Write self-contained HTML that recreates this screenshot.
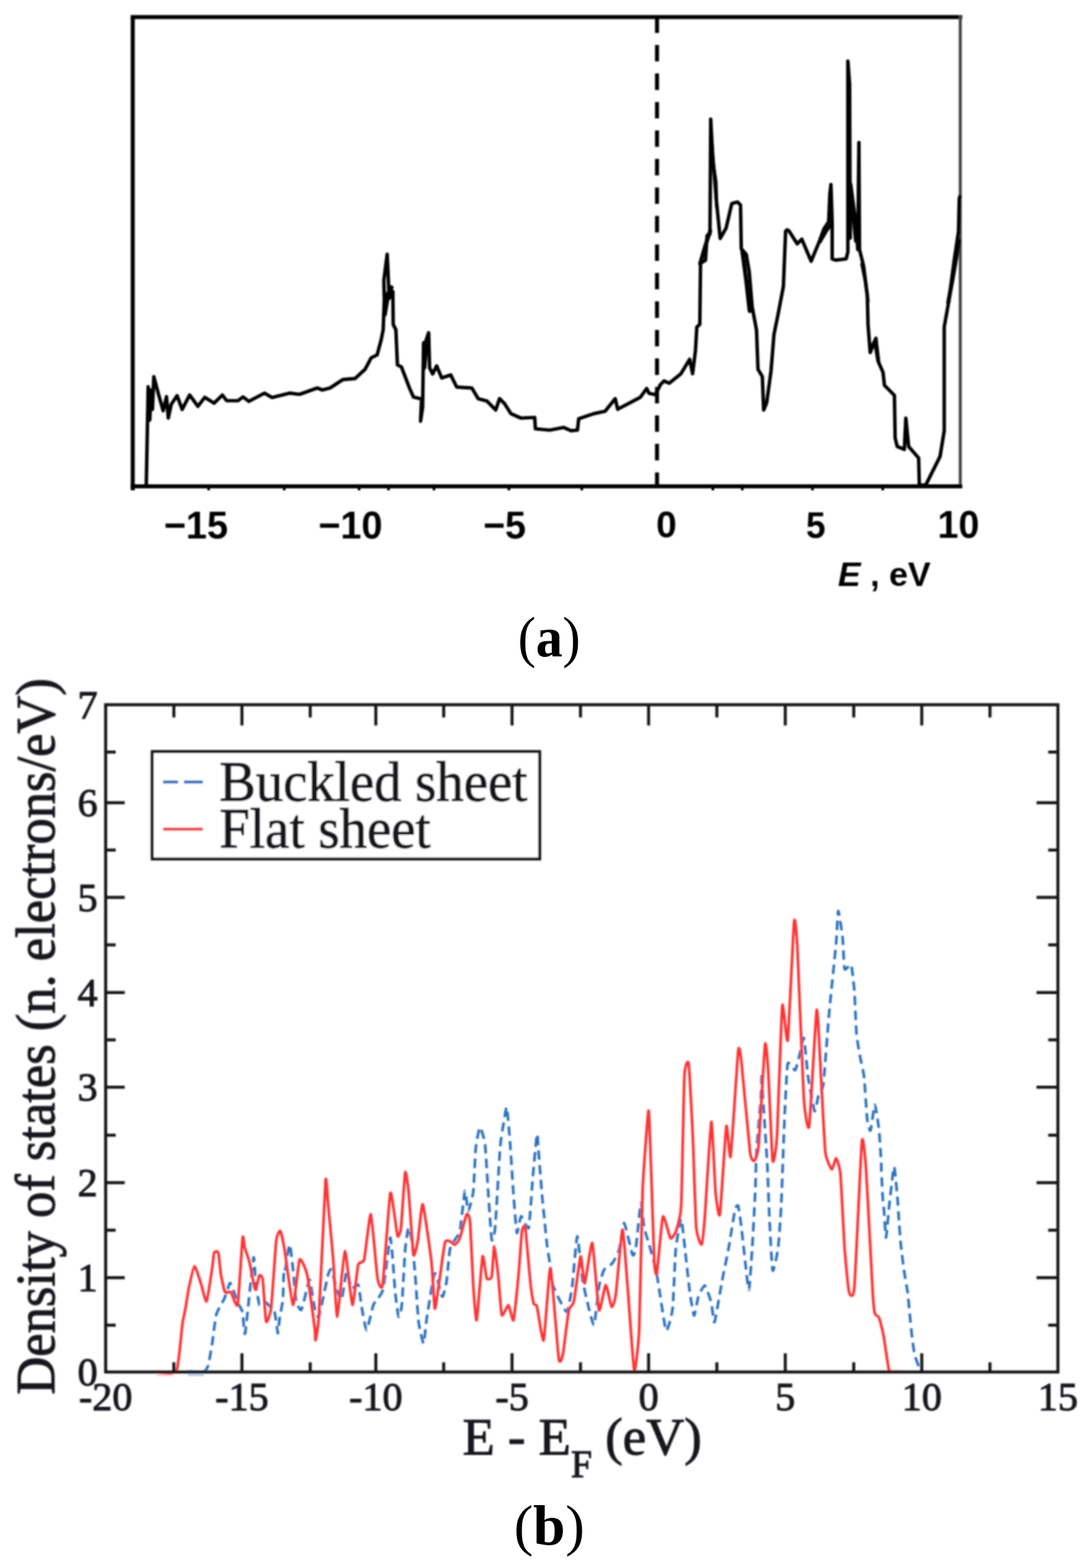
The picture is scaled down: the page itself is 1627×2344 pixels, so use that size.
<!DOCTYPE html>
<html><head><meta charset="utf-8"><title>Density of states</title>
<style>
html,body{margin:0;padding:0;background:#fff;}
body{width:1627px;height:2344px;overflow:hidden;}
svg{display:block;}
.sans{font-family:"Liberation Sans",Arial,sans-serif;font-weight:bold;}
.serif{font-family:"Liberation Serif","Times New Roman",serif;}
</style></head>
<body>
<svg width="1627" height="2344" viewBox="0 0 1627 2344">
<rect width="1627" height="2344" fill="#fff"/>
<defs>
<filter id="bl" x="-5%" y="-5%" width="110%" height="110%"><feGaussianBlur stdDeviation="1.1"/></filter>
</defs>
<g filter="url(#bl)">
<!-- panel a -->
<g fill="none" stroke-linejoin="miter">
<path d="M198.5 25 V733" stroke="#000" stroke-width="6"/>
<path d="M195.5 25.5 H1439" stroke="#000" stroke-width="6"/>
<path d="M1436 23 V729" stroke="#444" stroke-width="4.5"/>
<path d="M195.5 727 H1439" stroke="#000" stroke-width="6"/>
<path d="M312.0 727 v6 M425.0 727 v6 M537.0 727 v6 M581.0 727 v6 M649.0 727 v6 M761.0 727 v6 M870.0 727 v6 M1066.0 727 v6 M1110.0 727 v6 M1215.0 727 v6 M1320.0 727 v6" stroke="#000" stroke-width="4"/>
<path d="M982.5 24.6 V727" stroke="#000" stroke-width="6" stroke-dasharray="24.6 18"/>
<path d="M218.8 727.0 L218.8 723.0 L221.6 578.0 L224.0 628.0 L226.0 583.0 L228.0 612.0 L230.0 563.0 L237.6 591.4 L244.0 614.0 L249.0 593.0 L251.7 625.0 L256.0 604.6 L264.8 591.4 L272.4 612.0 L283.6 590.5 L295.9 607.4 L306.2 594.0 L320.3 602.7 L332.5 590.5 L339.0 599.0 L356.0 599.0 L363.5 593.3 L372.0 600.0 L395.5 587.7 L406.8 594.2 L433.0 587.7 L448.0 589.5 L474.4 580.0 L482.0 583.0 L493.5 580.0 L513.0 567.3 L531.0 565.8 L546.0 552.0 L555.0 535.0 L564.0 530.5 L570.0 508.0 L573.0 493.0 L574.7 447.7 L574.0 419.0 L579.0 380.0 L582.0 446.0 L587.5 435.7 L588.0 485.0 L592.0 493.0 L594.3 545.5 L600.3 548.5 L612.3 580.0 L618.3 593.6 L630.4 596.6 L628.9 629.7 L632.0 608.6 L633.4 512.4 L636.4 511.0 L641.0 497.4 L642.4 550.0 L647.0 559.0 L653.0 547.0 L660.5 565.0 L674.0 560.5 L683.0 578.6 L705.6 580.0 L715.0 595.9 L728.2 599.6 L741.4 612.8 L747.0 595.9 L754.5 603.4 L764.0 618.4 L779.0 625.0 L799.6 624.0 L800.6 641.0 L822.0 643.0 L842.9 639.0 L854.0 643.8 L863.5 643.0 L865.4 626.0 L888.0 618.4 L905.0 614.7 L920.0 596.0 L923.7 611.8 L957.5 594.0 L967.0 580.8 L970.7 588.0 L980.0 590.0 L987.6 575.0 L993.0 569.5 L1000.9 572.8 L1018.3 558.7 L1031.3 537.0 L1035.7 558.7 L1040.0 524.0 L1042.0 489.0 L1046.5 484.8 L1047.6 393.5 L1055.0 389.0 L1057.4 352.0 L1061.7 350.0 L1062.8 178.0 L1066.0 241.0 L1070.4 271.7 L1071.5 302.0 L1077.0 356.5 L1085.7 341.3 L1094.3 304.3 L1103.0 302.0 L1107.4 306.5 L1108.5 371.7 L1116.0 380.4 L1120.4 406.5 L1124.8 458.7 L1131.3 493.5 L1133.5 552.0 L1140.0 563.0 L1142.0 613.0 L1146.5 602.0 L1153.0 554.3 L1157.4 500.0 L1164.0 467.4 L1171.5 428.0 L1174.8 345.7 L1177.0 343.5 L1180.0 345.4 L1192.2 364.5 L1199.0 357.5 L1213.0 390.6 L1225.2 361.0 L1232.2 342.0 L1239.2 331.4 L1241.0 289.7 L1242.6 275.8 L1244.4 331.4 L1244.4 387.0 L1249.6 388.9 L1265.3 387.0 L1267.9 376.7 L1267.9 91.3 L1270.5 126.0 L1271.4 355.8 L1272.2 275.8 L1277.4 315.8 L1281.0 345.4 L1282.7 373.2 L1284.4 213.0 L1285.3 373.2 L1291.4 397.6 L1297.0 441.7 L1298.0 484.3 L1301.3 527.0 L1309.8 505.6 L1314.0 541.9 L1320.5 556.8 L1322.6 576.0 L1337.5 591.0 L1338.6 654.8 L1341.8 667.5 L1352.4 671.8 L1354.6 625.0 L1358.8 667.5 L1373.7 684.6 L1374.8 725.0 L1384.4 725.0 L1405.7 682.5 L1412.0 644.0 L1412.0 488.6 L1418.5 452.4 L1427.0 388.5 L1433.4 345.9 L1434.5 296.9 L1436.0 292.0" stroke="#000" stroke-width="5.2" stroke-linejoin="round"/>
<path d="M1047.0 394.0 L1054.0 370.0 L1062.0 345.0" stroke="#000" stroke-width="6" stroke-linecap="round"/><path d="M1063.5 200.0 L1068.0 260.0 L1072.0 310.0" stroke="#000" stroke-width="5" stroke-linecap="round"/><path d="M1110.0 375.0 L1116.0 420.0 L1121.0 465.0" stroke="#000" stroke-width="6" stroke-linecap="round"/><path d="M1270.0 270.0 L1276.0 320.0 L1280.0 360.0" stroke="#000" stroke-width="6" stroke-linecap="round"/><path d="M1226.0 362.0 L1236.0 345.0 L1243.0 335.0" stroke="#000" stroke-width="5" stroke-linecap="round"/><path d="M575.0 470.0 L580.0 440.0 L585.0 430.0" stroke="#000" stroke-width="7" stroke-linecap="round"/><path d="M635.0 550.0 L638.0 515.0" stroke="#000" stroke-width="5" stroke-linecap="round"/><path d="M1418.0 452.0 L1424.0 420.0 L1430.0 385.0 L1434.0 360.0" stroke="#000" stroke-width="6" stroke-linecap="round"/><path d="M1289.0 395.0 L1294.0 420.0 L1298.0 450.0" stroke="#000" stroke-width="5" stroke-linecap="round"/><path d="M1302.0 520.0 L1308.0 510.0 L1313.0 540.0" stroke="#000" stroke-width="5" stroke-linecap="round"/>
</g>
<g fill="#000"><g transform="matrix(1.0110 0 0 1.0395 244.98 804.50)"><text class="sans" x="0" y="0" font-size="56">&#8722;15</text></g><g transform="matrix(1.0110 0 0 1.0395 475.98 804.50)"><text class="sans" x="0" y="0" font-size="56">&#8722;10</text></g><g transform="matrix(1.0017 0 0 1.0395 722.40 804.50)"><text class="sans" x="0" y="0" font-size="56">&#8722;5</text></g><g transform="matrix(0.9852 0 0 0.9789 981.23 803.20)"><text class="sans" x="0" y="0" font-size="56">0</text></g><g transform="matrix(0.9393 0 0 1.0026 1205.32 803.90)"><text class="sans" x="0" y="0" font-size="56">5</text></g><g transform="matrix(1.0036 0 0 1.0237 1401.99 804.40)"><text class="sans" x="0" y="0" font-size="56">10</text></g><g transform="matrix(0.9608 0 0 0.9556 1253.04 876.36)"><text class="sans" x="0" y="0" font-size="53"><tspan font-style="italic">E</tspan> , eV</text></g></g>
<!-- panel b -->
<g fill="none">
<path d="M234 2055.5 H258" stroke="#ff6060" stroke-width="3" opacity="0.35"/>
<path d="M281 2055.5 H305" stroke="#3070c0" stroke-width="3" opacity="0.35"/>
<path d="M281.0 2050.5 C283.0 2050.5 302.5 2051.3 305.0 2050.5 C307.5 2049.7 310.4 2044.4 311.5 2040.7 C312.6 2037.0 316.8 2011.7 317.7 2005.6 C318.6 1999.5 322.0 1972.0 322.7 1968.0 C323.4 1964.0 325.4 1960.1 326.5 1957.9 C327.6 1955.7 333.8 1945.0 335.3 1941.7 C336.8 1938.4 342.8 1918.5 344.0 1917.8 C345.2 1917.1 349.2 1930.3 350.3 1932.9 C351.4 1935.5 355.6 1946.8 356.6 1949.2 C357.6 1951.6 362.0 1958.0 362.8 1961.7 C363.6 1965.4 365.2 1999.8 366.6 1993.0 C368.0 1986.2 377.8 1886.6 379.1 1880.3 C380.4 1874.0 381.6 1912.0 382.3 1917.8 C383.0 1923.6 386.8 1948.1 387.9 1950.4 C389.0 1952.7 393.5 1944.5 395.4 1945.4 C397.3 1946.3 408.8 1957.7 410.5 1961.7 C412.2 1965.7 414.9 1992.2 415.5 1993.0 C416.1 1993.8 417.4 1975.9 418.0 1971.7 C418.6 1967.5 422.5 1948.4 423.0 1942.9 C423.5 1937.4 424.0 1908.4 424.2 1905.3 C424.4 1902.2 424.7 1909.3 425.4 1905.6 C426.1 1901.9 431.9 1861.3 433.0 1860.5 C434.1 1859.7 437.2 1888.4 438.0 1895.5 C438.8 1902.6 442.0 1940.5 443.0 1945.7 C444.0 1950.9 449.2 1959.5 450.5 1958.2 C451.8 1956.9 457.0 1934.4 458.0 1930.6 C459.0 1926.8 461.9 1911.0 463.0 1913.1 C464.1 1915.2 469.5 1951.1 470.6 1955.7 C471.8 1960.3 475.1 1972.4 476.8 1968.2 C478.5 1964.0 489.0 1911.4 490.6 1905.6 C492.2 1899.8 494.6 1896.3 495.6 1898.0 C496.6 1899.7 501.8 1921.8 503.1 1925.6 C504.4 1929.4 509.4 1945.3 510.7 1943.2 C512.0 1941.1 517.0 1902.1 518.2 1900.6 C519.5 1899.1 524.2 1923.9 525.7 1925.6 C527.2 1927.3 534.5 1918.3 535.7 1920.6 C537.0 1922.9 539.7 1947.6 540.7 1953.2 C541.7 1958.8 546.7 1988.5 548.2 1988.3 C549.7 1988.1 556.8 1954.7 558.3 1950.7 C559.8 1946.7 564.5 1942.8 565.8 1940.7 C567.0 1938.6 571.8 1933.1 573.3 1925.6 C574.8 1918.1 582.1 1854.2 583.3 1850.4 C584.4 1846.6 586.5 1873.8 587.1 1880.5 C587.7 1887.2 590.2 1923.3 590.9 1930.6 C591.6 1937.9 595.1 1966.5 595.9 1968.2 C596.7 1969.9 600.1 1959.0 600.9 1950.7 C601.7 1942.4 605.1 1877.6 605.9 1868.0 C606.7 1858.4 610.1 1836.5 610.9 1835.4 C611.7 1834.4 615.1 1849.6 615.9 1855.4 C616.7 1861.2 620.1 1895.6 620.9 1905.6 C621.7 1915.6 624.9 1967.1 625.9 1975.7 C626.9 1984.3 632.5 2008.9 633.5 2008.3 C634.5 2007.7 637.1 1976.9 638.5 1968.2 C639.9 1959.5 648.2 1905.9 650.1 1903.4 C652.0 1900.9 659.9 1937.4 661.4 1938.4 C662.9 1939.4 666.8 1921.7 667.7 1915.9 C668.6 1910.1 671.7 1873.5 672.7 1868.3 C673.7 1863.1 679.0 1855.5 680.2 1853.2 C681.5 1850.9 686.5 1846.8 687.7 1840.7 C689.0 1834.7 694.2 1783.1 695.2 1780.6 C696.2 1778.1 699.2 1810.6 700.3 1810.6 C701.3 1810.6 706.9 1788.5 707.8 1780.6 C708.7 1772.7 710.7 1723.3 711.5 1715.4 C712.3 1707.5 716.6 1685.7 717.8 1685.3 C718.9 1684.9 724.3 1702.0 725.3 1710.4 C726.3 1718.8 729.5 1773.7 730.3 1785.6 C731.1 1797.5 734.5 1849.0 735.3 1853.2 C736.1 1857.4 739.4 1847.2 740.4 1835.7 C741.4 1824.2 746.9 1728.4 747.9 1715.4 C748.9 1702.5 752.1 1685.3 752.9 1680.3 C753.7 1675.3 757.1 1652.7 757.9 1655.2 C758.7 1657.7 762.1 1699.5 762.9 1710.4 C763.7 1721.3 767.1 1774.5 767.9 1785.6 C768.7 1796.7 772.0 1840.5 772.9 1843.2 C773.8 1845.9 777.7 1818.7 779.2 1818.1 C780.7 1817.5 789.0 1840.5 790.5 1835.7 C792.0 1830.9 795.7 1772.2 796.7 1760.5 C797.7 1748.8 802.3 1698.4 803.0 1695.3 C803.7 1692.2 804.9 1715.4 805.5 1722.9 C806.1 1730.4 809.5 1774.1 810.5 1785.6 C811.5 1797.1 817.0 1851.8 818.0 1860.8 C819.0 1869.8 822.4 1888.3 823.1 1893.3 C823.8 1898.3 825.5 1916.5 826.8 1920.9 C828.0 1925.3 836.3 1942.7 838.1 1946.0 C839.9 1949.3 846.6 1962.9 848.1 1961.0 C849.6 1959.1 854.3 1932.8 855.6 1923.4 C856.9 1914.0 861.9 1849.2 863.2 1848.2 C864.5 1847.2 869.5 1902.8 870.7 1910.9 C872.0 1919.1 876.7 1940.2 878.2 1946.0 C879.7 1951.8 886.7 1983.0 888.2 1981.1 C889.7 1979.2 894.4 1930.3 895.7 1923.4 C897.0 1916.5 901.6 1901.2 903.3 1898.3 C905.0 1895.4 913.9 1890.8 915.8 1888.3 C917.7 1885.8 924.3 1873.3 925.8 1868.3 C927.3 1863.3 931.6 1827.6 933.3 1828.2 C935.0 1828.8 944.4 1872.7 945.9 1875.8 C947.4 1878.9 949.9 1872.3 950.9 1865.8 C951.9 1859.3 957.4 1800.6 958.4 1798.1 C959.4 1795.6 962.4 1830.5 963.4 1835.7 C964.4 1840.9 969.4 1855.6 970.9 1860.8 C972.4 1866.0 979.7 1892.4 981.0 1898.3 C982.3 1904.2 985.1 1923.7 986.4 1931.3 C987.7 1938.9 994.5 1987.0 996.1 1989.2 C997.7 1991.4 1004.5 1967.3 1005.7 1957.1 C1006.9 1946.9 1009.5 1878.3 1010.6 1867.0 C1011.7 1855.7 1017.4 1821.4 1018.6 1821.9 C1019.8 1822.4 1023.9 1864.3 1025.0 1873.4 C1026.1 1882.5 1030.4 1923.5 1031.5 1931.3 C1032.6 1939.1 1036.8 1966.2 1037.9 1966.7 C1039.0 1967.2 1043.1 1941.5 1044.4 1937.8 C1045.7 1934.0 1052.4 1920.9 1054.0 1921.7 C1055.6 1922.5 1062.5 1942.8 1063.7 1947.4 C1064.9 1952.0 1067.2 1979.1 1068.5 1976.4 C1069.8 1973.7 1078.0 1924.3 1079.7 1915.2 C1081.4 1906.1 1087.8 1875.8 1089.4 1867.0 C1091.0 1858.2 1097.8 1814.5 1099.0 1809.1 C1100.2 1803.7 1103.1 1800.5 1103.9 1802.6 C1104.7 1804.7 1107.8 1827.3 1108.7 1834.8 C1109.6 1842.3 1114.2 1884.9 1115.1 1892.7 C1116.0 1900.5 1119.2 1930.2 1120.0 1928.1 C1120.8 1926.0 1124.0 1879.6 1124.8 1867.0 C1125.6 1854.4 1129.1 1789.0 1129.6 1776.9 C1130.1 1764.8 1130.5 1733.5 1131.2 1722.2 C1131.9 1710.9 1137.0 1651.7 1137.7 1641.8 C1138.4 1631.9 1139.0 1603.1 1139.3 1603.1 C1139.6 1603.1 1140.2 1630.5 1140.9 1641.8 C1141.6 1653.1 1146.5 1723.6 1147.3 1738.3 C1148.1 1753.0 1149.8 1805.3 1150.5 1818.7 C1151.2 1832.1 1154.3 1895.2 1155.4 1899.2 C1156.5 1903.2 1162.3 1875.0 1163.4 1867.0 C1164.5 1859.0 1167.4 1818.7 1168.2 1802.6 C1169.0 1786.5 1172.3 1691.6 1173.1 1673.9 C1173.9 1656.2 1176.6 1596.5 1177.9 1590.3 C1179.2 1584.1 1187.6 1601.0 1189.1 1599.9 C1190.6 1598.8 1194.5 1581.4 1195.6 1577.4 C1196.7 1573.4 1200.9 1549.0 1202.0 1551.7 C1203.1 1554.4 1207.1 1600.5 1208.4 1609.6 C1209.7 1618.7 1216.8 1659.0 1218.1 1661.1 C1219.4 1663.2 1223.4 1638.5 1224.5 1635.3 C1225.6 1632.1 1229.9 1629.9 1231.0 1622.4 C1232.1 1614.9 1236.6 1554.9 1237.4 1545.2 C1238.2 1535.5 1239.5 1517.9 1240.6 1506.6 C1241.7 1495.3 1249.2 1422.2 1250.3 1410.1 C1251.4 1398.0 1252.7 1362.6 1253.5 1361.8 C1254.3 1361.0 1259.1 1393.2 1259.9 1400.4 C1260.7 1407.6 1262.0 1445.2 1263.1 1448.7 C1264.2 1452.2 1271.6 1439.6 1272.8 1442.3 C1274.0 1445.0 1276.9 1472.3 1277.6 1480.9 C1278.3 1489.5 1280.1 1537.2 1280.8 1545.2 C1281.5 1553.2 1284.8 1572.0 1285.7 1577.4 C1286.6 1582.8 1291.2 1601.6 1292.1 1609.6 C1293.0 1617.6 1296.1 1667.2 1296.9 1673.9 C1297.7 1680.6 1300.9 1691.9 1301.8 1690.0 C1302.7 1688.1 1307.1 1651.4 1308.2 1651.4 C1309.3 1651.4 1313.8 1682.8 1314.6 1690.0 C1315.4 1697.2 1317.5 1733.3 1317.8 1738.3 C1318.1 1743.3 1317.8 1745.7 1318.0 1750.0 C1318.2 1754.3 1319.7 1785.0 1320.0 1790.0 C1320.3 1795.0 1321.6 1805.0 1322.0 1810.0 C1322.4 1815.0 1324.3 1850.8 1325.0 1850.0 C1325.7 1849.2 1329.0 1808.8 1330.0 1800.0 C1331.0 1791.2 1336.0 1744.8 1337.0 1744.0 C1338.0 1743.2 1341.4 1783.7 1342.0 1790.0 C1342.6 1796.3 1343.6 1814.2 1344.0 1820.0 C1344.4 1825.8 1346.3 1853.3 1347.0 1860.0 C1347.7 1866.7 1351.2 1894.2 1352.0 1900.0 C1352.8 1905.8 1356.3 1925.0 1357.0 1930.0 C1357.7 1935.0 1359.4 1954.2 1360.0 1960.0 C1360.6 1965.8 1363.3 1994.5 1364.0 2000.0 C1364.7 2005.5 1367.0 2022.0 1368.0 2026.0 C1369.0 2030.0 1375.3 2046.2 1376.0 2048.0" stroke="#2a72c0" stroke-width="4" stroke-dasharray="14 8" stroke-linejoin="round"/>
<path d="M234.0 2050.5 C236.5 2050.4 260.6 2055.2 263.8 2049.4 C267.0 2043.6 271.5 1988.4 272.6 1980.5 C273.8 1972.6 276.8 1958.9 277.6 1954.2 C278.4 1949.5 281.5 1929.2 282.6 1924.1 C283.7 1919.0 289.3 1893.3 290.8 1892.8 C292.3 1892.3 298.7 1913.4 300.2 1917.8 C301.7 1922.2 307.4 1947.5 308.9 1945.4 C310.4 1943.3 316.8 1898.9 317.7 1892.8 C318.6 1886.7 319.5 1874.4 320.2 1872.7 C320.9 1871.0 325.7 1870.0 326.5 1872.7 C327.3 1875.4 329.5 1900.4 330.3 1905.3 C331.1 1910.2 335.2 1929.4 336.5 1931.6 C337.8 1933.8 343.7 1930.0 345.3 1931.6 C346.9 1933.2 353.8 1957.2 355.3 1950.4 C356.8 1943.6 361.9 1857.3 362.8 1850.2 C363.7 1843.1 365.2 1862.2 366.0 1865.2 C366.8 1868.2 371.6 1881.3 372.9 1886.5 C374.2 1891.7 380.4 1926.2 381.6 1927.9 C382.9 1929.6 387.0 1907.9 387.9 1906.6 C388.8 1905.3 392.1 1907.1 392.9 1912.8 C393.7 1918.5 396.9 1972.0 397.9 1975.5 C398.9 1979.0 404.1 1965.4 405.4 1955.4 C406.7 1945.4 411.9 1864.8 413.0 1855.2 C414.1 1845.6 418.2 1839.2 419.2 1840.2 C420.2 1841.2 423.9 1858.5 425.5 1867.7 C427.1 1876.9 436.1 1949.4 438.0 1950.7 C439.9 1952.0 446.2 1886.8 448.0 1883.0 C449.8 1879.2 457.4 1897.0 459.3 1905.6 C461.2 1914.2 469.6 1977.7 470.6 1985.8 C471.6 1993.9 471.3 2004.8 471.8 2003.3 C472.3 2001.8 475.6 1988.0 476.8 1968.2 C478.1 1948.4 485.7 1779.2 486.8 1765.2 C487.9 1751.2 489.7 1790.7 490.6 1800.3 C491.5 1809.9 497.0 1866.5 498.1 1880.5 C499.2 1894.5 502.9 1969.0 504.4 1968.2 C505.9 1967.4 513.8 1872.0 515.7 1870.5 C517.6 1869.0 525.2 1949.0 526.9 1950.7 C528.6 1952.4 534.2 1896.1 535.7 1890.5 C537.2 1884.9 542.9 1889.3 544.5 1883.0 C546.1 1876.7 552.8 1813.0 554.5 1815.3 C556.2 1817.6 563.0 1901.8 564.5 1910.6 C566.0 1919.4 570.5 1931.0 572.1 1920.6 C573.7 1910.2 581.9 1794.9 583.3 1785.3 C584.6 1775.7 587.4 1800.1 588.3 1805.3 C589.2 1810.5 593.7 1845.4 594.6 1847.9 C595.5 1850.4 598.7 1843.3 599.6 1835.4 C600.5 1827.5 605.0 1757.3 605.9 1752.7 C606.8 1748.1 609.9 1770.1 610.9 1780.3 C611.9 1790.5 617.2 1869.2 618.4 1875.5 C619.5 1881.8 623.6 1861.7 624.7 1855.4 C625.9 1849.1 630.5 1797.8 632.2 1800.3 C633.9 1802.8 643.6 1872.8 645.1 1885.8 C646.6 1898.8 649.3 1952.5 650.1 1956.0 C650.9 1959.5 653.8 1936.6 655.1 1928.4 C656.4 1920.2 663.7 1864.3 665.2 1858.2 C666.7 1852.1 671.5 1855.5 672.7 1855.7 C674.0 1855.9 679.0 1861.2 680.2 1860.8 C681.5 1860.4 686.2 1854.5 687.7 1850.7 C689.2 1846.9 696.4 1817.7 697.7 1815.6 C699.0 1813.5 702.0 1816.7 702.8 1825.7 C703.6 1834.7 707.0 1911.1 707.8 1923.4 C708.6 1935.7 711.6 1977.3 712.8 1973.5 C713.9 1969.7 720.4 1883.5 721.6 1878.3 C722.9 1873.1 726.7 1908.4 727.8 1910.9 C728.9 1913.4 734.4 1912.4 735.3 1908.4 C736.2 1904.4 738.3 1863.1 739.1 1863.3 C739.9 1863.5 744.5 1902.3 745.4 1910.9 C746.3 1919.5 749.1 1962.7 750.4 1966.0 C751.6 1969.3 758.9 1950.4 760.4 1951.0 C761.9 1951.6 766.6 1977.3 767.9 1973.5 C769.1 1969.7 774.4 1917.0 775.4 1905.9 C776.4 1894.8 779.7 1846.5 780.5 1840.7 C781.3 1834.9 784.5 1829.4 785.5 1835.7 C786.5 1842.0 792.0 1906.5 793.0 1915.9 C794.0 1925.3 797.2 1945.4 798.0 1948.5 C798.8 1951.6 801.8 1948.9 803.0 1953.5 C804.2 1958.1 811.3 2008.4 813.0 2003.6 C814.7 1998.8 821.2 1893.5 823.1 1895.8 C825.0 1898.1 834.0 2020.5 835.6 2031.2 C837.2 2041.9 840.6 2029.8 841.9 2023.7 C843.1 2017.6 849.2 1965.0 850.6 1958.5 C852.0 1952.0 856.6 1952.7 858.1 1946.0 C859.6 1939.3 866.8 1880.6 868.2 1878.3 C869.6 1876.0 872.9 1920.1 874.4 1918.4 C875.9 1916.7 883.9 1854.9 885.7 1858.2 C887.5 1861.5 894.0 1953.3 895.7 1958.5 C897.4 1963.7 904.2 1921.3 905.8 1920.9 C907.4 1920.5 913.2 1952.2 914.5 1953.5 C915.8 1954.8 919.4 1945.5 920.8 1935.9 C922.2 1926.3 929.3 1839.5 930.8 1838.2 C932.3 1837.0 936.8 1903.4 938.3 1920.9 C939.8 1938.4 946.9 2043.3 948.4 2048.7 C949.9 2054.1 954.9 2008.4 955.9 1986.1 C956.9 1963.8 959.8 1807.8 960.9 1780.6 C962.0 1753.4 968.7 1663.6 969.7 1660.3 C970.7 1657.0 972.7 1721.7 973.4 1740.5 C974.1 1759.3 977.7 1872.2 978.4 1885.8 C979.1 1899.4 981.1 1909.0 982.2 1903.4 C983.3 1897.8 989.6 1823.1 991.3 1818.7 C993.0 1814.3 1000.9 1849.0 1002.5 1850.9 C1004.1 1852.8 1009.3 1845.2 1010.6 1841.2 C1011.9 1837.2 1017.5 1821.9 1018.6 1802.6 C1019.7 1783.3 1022.5 1627.3 1023.4 1609.6 C1024.3 1591.9 1028.8 1582.3 1029.9 1590.3 C1031.0 1598.3 1035.4 1685.7 1036.3 1706.1 C1037.2 1726.5 1040.0 1821.9 1041.1 1834.8 C1042.2 1847.7 1048.1 1861.8 1049.2 1860.5 C1050.3 1859.2 1052.8 1834.0 1054.0 1818.7 C1055.2 1803.4 1062.4 1680.0 1063.7 1677.1 C1065.0 1674.1 1069.0 1771.8 1070.1 1783.3 C1071.2 1794.8 1075.2 1823.8 1076.5 1815.5 C1077.8 1807.2 1084.9 1690.8 1086.2 1683.6 C1087.5 1676.4 1091.1 1738.0 1092.6 1728.6 C1094.1 1719.2 1102.6 1582.8 1103.9 1571.0 C1105.2 1559.2 1107.2 1574.5 1108.7 1587.1 C1110.2 1599.7 1120.0 1709.9 1121.6 1722.2 C1123.2 1734.5 1126.9 1735.9 1128.0 1735.1 C1129.1 1734.3 1133.1 1727.0 1134.4 1712.5 C1135.7 1698.0 1142.9 1570.4 1144.1 1561.3 C1145.3 1552.2 1148.0 1588.6 1148.9 1603.1 C1149.8 1617.6 1154.3 1727.0 1155.4 1735.1 C1156.5 1743.1 1160.6 1719.0 1161.8 1699.7 C1163.0 1680.4 1168.5 1515.5 1169.8 1503.4 C1171.1 1491.3 1176.4 1565.4 1177.9 1554.9 C1179.4 1544.4 1186.3 1389.4 1187.5 1377.9 C1188.7 1366.4 1191.2 1394.5 1192.4 1416.5 C1193.6 1438.5 1200.5 1619.5 1202.0 1641.8 C1203.5 1664.1 1208.5 1694.6 1210.1 1683.6 C1211.7 1672.6 1219.8 1516.0 1221.3 1509.8 C1222.8 1503.6 1226.6 1591.9 1227.7 1609.6 C1228.8 1627.3 1232.9 1710.7 1234.2 1722.2 C1235.5 1733.7 1242.5 1747.1 1243.8 1747.9 C1245.1 1748.7 1249.2 1731.3 1250.3 1731.8 C1251.4 1732.3 1255.6 1743.1 1256.7 1754.4 C1257.8 1765.7 1262.0 1852.3 1263.1 1867.0 C1264.2 1881.7 1268.4 1926.5 1269.6 1931.3 C1270.8 1936.1 1276.0 1943.7 1277.6 1924.9 C1279.2 1906.1 1287.4 1720.6 1288.9 1706.1 C1290.4 1691.6 1294.0 1732.3 1295.3 1751.1 C1296.6 1769.9 1303.9 1913.6 1305.0 1931.3 C1306.1 1949.0 1307.4 1960.3 1308.2 1963.5 C1309.0 1966.7 1313.5 1967.2 1314.6 1969.9 C1315.7 1972.6 1319.9 1989.3 1321.1 1995.7 C1322.3 2002.1 1328.0 2042.6 1329.1 2047.2 C1330.2 2051.8 1332.6 2050.2 1334.0 2050.5 C1335.4 2050.8 1345.0 2050.5 1346.0 2050.5" stroke="#ff3030" stroke-width="4" stroke-linejoin="round"/>
<rect x="158" y="1053.5" width="1424" height="997.5" stroke="#141414" stroke-width="4.5"/>
<path d="M260.0 2051.0 V2036.5 M260.0 1053.5 V1072.5 M361.8 2051.0 V2023.0 M361.8 1053.5 V1084.5 M463.9 2051.0 V2036.5 M463.9 1053.5 V1072.5 M562.0 2051.0 V2023.0 M562.0 1053.5 V1084.5 M663.5 2051.0 V2036.5 M663.5 1053.5 V1072.5 M765.7 2051.0 V2023.0 M765.7 1053.5 V1084.5 M868.1 2051.0 V2036.5 M868.1 1053.5 V1072.5 M969.9 2051.0 V2023.0 M969.9 1053.5 V1084.5 M1072.0 2051.0 V2036.5 M1072.0 1053.5 V1072.5 M1174.3 2051.0 V2023.0 M1174.3 1053.5 V1084.5 M1276.7 2051.0 V2036.5 M1276.7 1053.5 V1072.5 M1378.4 2051.0 V2023.0 M1378.4 1053.5 V1084.5 M1480.4 2051.0 V2036.5 M1480.4 1053.5 V1072.5 M158.0 1981.0 H173.0 M1582.0 1981.0 H1567.5 M158.0 1910.0 H186.5 M1582.0 1910.0 H1550.0 M158.0 1838.9 H173.0 M1582.0 1838.9 H1567.5 M158.0 1768.0 H186.5 M1582.0 1768.0 H1550.0 M158.0 1697.0 H173.0 M1582.0 1697.0 H1567.5 M158.0 1625.2 H186.5 M1582.0 1625.2 H1550.0 M158.0 1554.5 H173.0 M1582.0 1554.5 H1567.5 M158.0 1483.7 H186.5 M1582.0 1483.7 H1550.0 M158.0 1412.6 H173.0 M1582.0 1412.6 H1567.5 M158.0 1341.5 H186.5 M1582.0 1341.5 H1550.0 M158.0 1270.7 H173.0 M1582.0 1270.7 H1567.5 M158.0 1200.0 H186.5 M1582.0 1200.0 H1550.0 M158.0 1124.2 H173.0 M1582.0 1124.2 H1567.5" stroke="#141414" stroke-width="4.5"/>
<rect x="227.7" y="1123.6" width="579.3" height="160.4" stroke="#141414" stroke-width="4.5" fill="#fff"/>
<path d="M243.8 1168.9 H303.3" stroke="#1f6fc0" stroke-width="4.5" stroke-dasharray="22.5 8.7 28.5"/>
<path d="M243.8 1239.4 H303.3" stroke="#ff3030" stroke-width="4.5"/>
</g>
<g class="serif" fill="#14141e" stroke="#14141e" stroke-width="1.3">
<g font-size="60"><text x="146" y="2071.0" text-anchor="end">0</text><text x="146" y="1930.0" text-anchor="end">1</text><text x="146" y="1788.0" text-anchor="end">2</text><text x="146" y="1645.2" text-anchor="end">3</text><text x="146" y="1503.7" text-anchor="end">4</text><text x="146" y="1361.5" text-anchor="end">5</text><text x="146" y="1220.0" text-anchor="end">6</text><text x="146" y="1073.5" text-anchor="end">7</text><text x="158.0" y="2108" text-anchor="middle">-20</text><text x="361.8" y="2108" text-anchor="middle">-15</text><text x="562.0" y="2108" text-anchor="middle">-10</text><text x="765.7" y="2108" text-anchor="middle">-5</text><text x="969.9" y="2108" text-anchor="middle">0</text><text x="1174.3" y="2108" text-anchor="middle">5</text><text x="1378.4" y="2108" text-anchor="middle">10</text><text x="1582.0" y="2108" text-anchor="middle">15</text></g>
<g transform="matrix(0.9614 0 0 1.0000 328.08 1197.00)"><text class="serif" x="0" y="0" font-size="85">Buckled sheet</text></g><g transform="matrix(0.9632 0 0 1.0000 328.07 1267.00)"><text class="serif" x="0" y="0" font-size="85">Flat sheet</text></g><g transform="matrix(1.0000 0 0 0.9467 81.00 2084.84)"><text class="serif" transform="rotate(-90)" x="0" y="0" font-size="83">Density of states (n. electrons/eV)</text></g><g transform="matrix(0.9980 0 0 0.9820 691.70 2173.93)"><text class="serif" x="0" y="0" font-size="79">E - E<tspan font-size="57" dy="35">F</tspan><tspan dy="-35"> (eV)</tspan></text></g>
</g>
</g>
<g fill="#000"><g transform="matrix(0.9323 0 0 0.9885 774.57 980.81)"><text class="serif" x="0" y="0" font-size="86">(<tspan font-weight="bold">a</tspan>)</text></g><g transform="matrix(1.0041 0 0 0.9910 768.58 2309.16)"><text class="serif" x="0" y="0" font-size="86">(<tspan font-weight="bold">b</tspan>)</text></g></g>
</svg>
</body></html>
